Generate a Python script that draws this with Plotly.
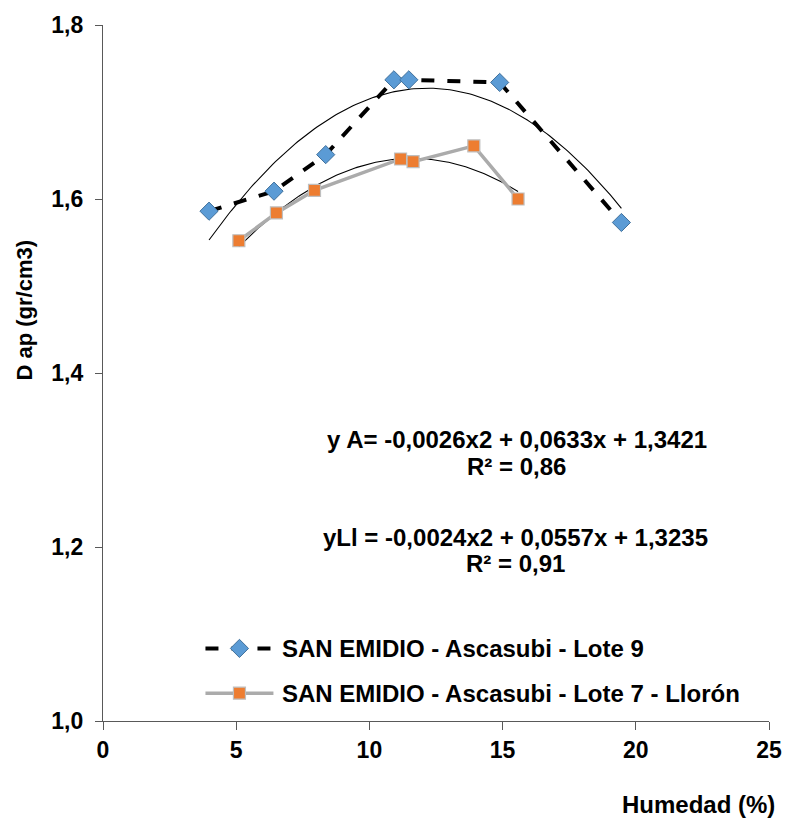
import numpy as np
import plotly.graph_objects as go

# Humedad (%) and apparent density (gr/cm3) for each plot
hum_lote9 = [3.98, 6.42, 8.36, 10.92, 11.48, 14.89, 19.46]
dap_lote9 = [1.586, 1.609, 1.651, 1.737, 1.737, 1.734, 1.573]

hum_lote7 = [5.10, 6.51, 7.94, 11.17, 11.64, 13.92, 15.58]
dap_lote7 = [1.552, 1.584, 1.610, 1.646, 1.643, 1.661, 1.600]

# Quadratic trend coefficients (a, b, c) for y = a*x^2 + b*x + c
coef_lote9 = [-0.0026, 0.0633, 1.3421]
coef_lote7 = [-0.0024, 0.0557, 1.3235]

name_lote9 = "SAN EMIDIO - Ascasubi - Lote 9"
name_lote7 = "SAN EMIDIO - Ascasubi - Lote 7 - Llorón"

eq_lote9 = ["y A= -0,0026x2 + 0,0633x + 1,3421", "R² = 0,86"]
eq_lote7 = ["yLl = -0,0024x2 + 0,0557x + 1,3235", "R² = 0,91"]

x_ticks = [0, 5, 10, 15, 20, 25]
x_tick_text = ["0", "5", "10", "15", "20", "25"]
y_ticks = [1.0, 1.2, 1.4, 1.6, 1.8]
y_tick_text = ["1,0", "1,2", "1,4", "1,6", "1,8"]

FONT = "Liberation Sans, Arial, sans-serif"
FS = 24
FS_TICK = 23

W, H = 794, 820
L, R, T, B = 103, 15, 21, 99

# style of each series
style_lote9 = dict(
    line=dict(color="black", width=4, dash="13px,13px"),
    marker=dict(symbol="diamond", size=14, color="#5B9BD5",
                line=dict(color="#41719C", width=1)),
)
style_lote7 = dict(
    line=dict(color="#ABABAB", width=3.5),
    marker=dict(symbol="square", size=12, color="#ED7D31",
                line=dict(color="#BFBFBF", width=1.2)),
)


def px_x(p):
    return (p - L) / (W - L - R)


def px_y(p):
    return 1 - (p - T) / (H - T - B)


def bold(s):
    return "<b>" + s + "</b>"


def trend(xs, coef):
    xx = np.linspace(min(xs), max(xs), 150)
    a, b, c = coef
    return xx, a * xx ** 2 + b * xx + c


def label(xp, yp, text, xanchor="center", size=FS, angle=0):
    fig.add_annotation(x=px_x(xp), y=px_y(yp), xref="paper", yref="paper",
                       xanchor=xanchor, yanchor="middle", showarrow=False,
                       textangle=angle, text=bold(text),
                       font=dict(family=FONT, size=size, color="black"))


fig = go.Figure()

for xs, coef in ((hum_lote9, coef_lote9), (hum_lote7, coef_lote7)):
    tx, ty = trend(xs, coef)
    fig.add_trace(go.Scatter(
        x=tx, y=ty, mode="lines", showlegend=False, hoverinfo="skip",
        line=dict(color="black", width=1.1),
    ))

fig.add_trace(go.Scatter(x=hum_lote9, y=dap_lote9, mode="lines+markers",
                         name=name_lote9, showlegend=False, **style_lote9))
fig.add_trace(go.Scatter(x=hum_lote7, y=dap_lote7, mode="lines+markers",
                         name=name_lote7, showlegend=False, **style_lote7))

# legend keys drawn on an overlay axis measured in screen pixels
legend_rows = [(648, name_lote9, style_lote9), (693, name_lote7, style_lote7)]
for ypix, name, st in legend_rows:
    fig.add_trace(go.Scatter(
        x=[207, 276], y=[ypix, ypix], mode="lines", xaxis="x2", yaxis="y2",
        showlegend=False, hoverinfo="skip", line=st["line"],
    ))
    fig.add_trace(go.Scatter(
        x=[241.5], y=[ypix], mode="markers", xaxis="x2", yaxis="y2",
        showlegend=False, hoverinfo="skip", marker=st["marker"],
    ))
    label(283, ypix, name, xanchor="left")

# trend equations
for cx, cy, lines in ((523, 438, eq_lote9), (522, 536, eq_lote7)):
    label(cx, cy, lines[0])
    label(cx, cy + 27, lines[1])

label(707, 805, "Humedad (%)")
label(23, 308, "D ap (gr/cm3)", size=FS - 2, angle=-90)

axis_line = dict(showgrid=False, zeroline=False, showline=True,
                 linecolor="#595959", linewidth=1.2, ticks="outside",
                 tickcolor="#595959",
                 tickfont=dict(family=FONT, size=FS_TICK, color="black"))

fig.update_layout(
    width=W, height=H,
    margin=dict(l=L, r=R, t=T, b=B),
    paper_bgcolor="white", plot_bgcolor="white",
    font=dict(family=FONT, size=FS, color="black"),
    showlegend=False,
    xaxis=dict(range=[0, 25], tickvals=x_ticks,
               ticktext=[bold(t) for t in x_tick_text],
               ticklen=8, ticklabelstandoff=0, **axis_line),
    yaxis=dict(range=[1.0, 1.8], tickvals=y_ticks,
               ticktext=[bold(t) for t in y_tick_text],
               ticklen=7, ticklabelstandoff=7, **axis_line),
    xaxis2=dict(range=[L, W - R], overlaying="x", visible=False,
                fixedrange=True),
    yaxis2=dict(range=[H - B, T], overlaying="y", visible=False,
                fixedrange=True),
)

fig.write_html("out.html")
